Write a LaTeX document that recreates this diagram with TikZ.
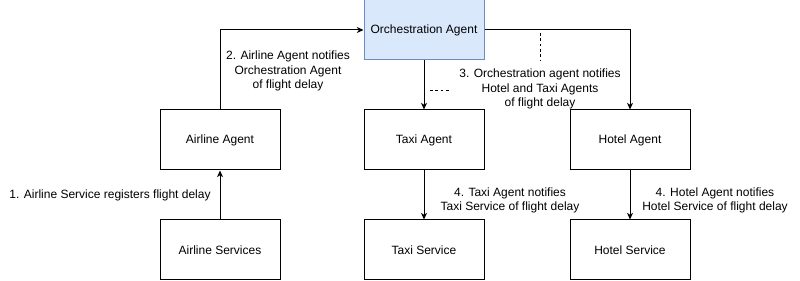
\documentclass[tikz,border=0pt]{standalone}
\usepackage{fontspec}
\setmainfont{Liberation Sans}
\usetikzlibrary{arrows.meta,positioning}
\definecolor{orchfill}{RGB}{218,232,252}
\definecolor{orchline}{RGB}{108,142,191}

\begin{document}
\begin{tikzpicture}[x=0.75pt, y=-0.75pt,
    box/.style={rectangle, draw=black, line width=0.75pt, fill=white,
        minimum width=90pt, minimum height=45pt, font=\fontsize{9}{10.5}\selectfont, inner sep=0pt},
    orchbox/.style={box, draw=orchline, fill=orchfill},
    arr/.style={-{Stealth[length=5pt, width=4.5pt, inset=1.5pt]}, line width=0.75pt},
    lab/.style={font=\fontsize{9}{10.8}\selectfont, align=center, inner sep=0pt}
]
    \useasboundingbox (0,0) rectangle (800,281);

    % Orchestration
    \node[orchbox] (orch) at (424,30) {Orchestration Agent};

    % Agents
    \node[box] (airagent)   at (220,140) {Airline Agent};
    \node[box] (taxiagent)  at (424,140) {Taxi Agent};
    \node[box] (hotelagent) at (630,140) {Hotel Agent};

    % Services
    \node[box] (airsvc)   at (220,250) {Airline Services};
    \node[box] (taxisvc)  at (424,250) {Taxi Service};
    \node[box] (hotelsvc) at (630,250) {Hotel Service};

    % Arrows
    \draw[arr] (airsvc) -- (airagent);
    \draw[arr] (airagent.north) |- (orch.west);
    \draw[arr] (orch) -- (taxiagent);
    \draw[arr] (orch.east) -| (hotelagent.north);
    \draw[arr] (taxiagent) -- (taxisvc);
    \draw[arr] (hotelagent) -- (hotelsvc);

    % Dashed label marks
    \draw[dashed, line width=0.5pt, dash pattern=on 2pt off 2pt] (540,33) -- (540,60);
    \draw[dashed, line width=0.5pt, dash pattern=on 2pt off 2pt] (430,90) -- (451,90);

    % Labels
    \node[lab] (l1) at (110,195) {1. Airline Service registers flight delay};
    \node[lab] (l2) at (288,71) {2. Airline Agent notifies\\Orchestration Agent\\of flight delay};
    \node[lab] (l3) at (540,89) {3. Orchestration agent notifies\\Hotel and Taxi Agents\\of flight delay};
    \node[lab] (l4) at (510,200.5) {4. Taxi Agent notifies\\Taxi Service of flight delay};
    \node[lab] (l5) at (715,200.5) {4. Hotel Agent notifies\\Hotel Service of flight delay};
\end{tikzpicture}
\end{document}
